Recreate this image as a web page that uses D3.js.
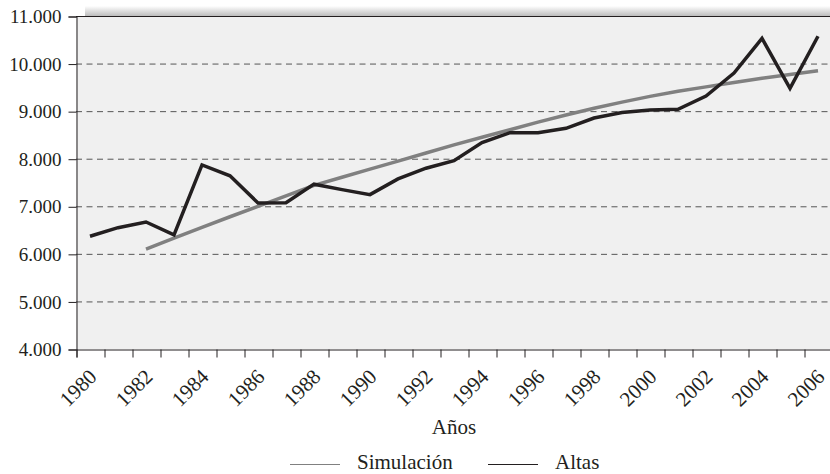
<!DOCTYPE html>
<html>
<head>
<meta charset="utf-8">
<script src="https://cdn.jsdelivr.net/npm/d3@7"></script>
<style>
  body { margin: 0; background: #fff; }
</style>
</head>
<body>
<script>
// data
var YEARS = [1980, 1981, 1982, 1983, 1984, 1985, 1986, 1987, 1988, 1989,
    1990, 1991, 1992, 1993, 1994, 1995, 1996, 1997, 1998, 1999,
    2000, 2001, 2002, 2003, 2004, 2005, 2006];
var ALTAS = [6370, 6550, 6670, 6400, 7870, 7640, 7070, 7075, 7465, 7350,
    7245, 7575, 7800, 7960, 8340, 8547, 8547, 8640, 8855, 8970,
    9025, 9040, 9318, 9800, 10530, 9480, 10575];
var SIMULACION = [null, null, 6100, 6330, 6555, 6780, 7000, 7220, 7440, 7610,
    7780, 7950, 8120, 8290, 8450, 8610, 8770, 8920, 9060, 9190,
    9310, 9420, 9510, 9600, 9690, 9770, 9850];
var LABEL_YEARS = [1980, 1982, 1984, 1986, 1988, 1990, 1992, 1994, 1996, 1998,
    2000, 2002, 2004, 2006];
var Y_TICKS = [4000, 5000, 6000, 7000, 8000, 9000, 10000, 11000];
var GRID_TICKS = [5000, 6000, 7000, 8000, 9000, 10000];

var WIDTH = 830, HEIGHT = 474;
var PLOT = {left: 76, right: 832, top: 16, bottom: 349};
var FONT = "'Liberation Serif', 'DejaVu Serif', serif";
var INK = "#231f20";

var svg = d3.select("body").append("svg")
    .attr("width", WIDTH)
    .attr("height", HEIGHT)
    .attr("font-family", FONT);

// scales
var xScale = d3.scaleLinear().domain([1979.5, 2006.5]).range([PLOT.left, PLOT.right]);
var yScale = d3.scaleLinear().domain([4000, 11000]).range([PLOT.bottom, PLOT.top]);

var esFormat = d3.formatLocale({decimal: ",", thousands: ".", grouping: [3], currency: ["", ""]}).format(",.0f");

// shadow above the plot frame
var defs = svg.append("defs");
var grad = defs.append("linearGradient").attr("id", "shade").attr("x1", 0).attr("x2", 0).attr("y1", 0).attr("y2", 1);
grad.append("stop").attr("offset", "0%").attr("stop-color", "#ffffff");
grad.append("stop").attr("offset", "100%").attr("stop-color", "#bdbdbd");
svg.append("rect")
    .attr("x", PLOT.left + 9).attr("y", PLOT.top - 10)
    .attr("width", WIDTH - PLOT.left - 9).attr("height", 10)
    .attr("fill", "url(#shade)");

// plot background
svg.append("rect")
    .attr("x", PLOT.left).attr("y", PLOT.top)
    .attr("width", PLOT.right - PLOT.left).attr("height", PLOT.bottom - PLOT.top)
    .attr("fill", "#f0f0f0");

// dashed grid
svg.append("g").selectAll("line").data(GRID_TICKS).enter().append("line")
    .attr("x1", PLOT.left).attr("x2", PLOT.right)
    .attr("y1", function (d) { return yScale(d) + 0.5; })
    .attr("y2", function (d) { return yScale(d) + 0.5; })
    .attr("stroke", "#555")
    .attr("stroke-width", 1)
    .attr("stroke-dasharray", "6,4.5");

// top border
svg.append("line")
    .attr("x1", PLOT.left).attr("x2", WIDTH)
    .attr("y1", PLOT.top + 0.5).attr("y2", PLOT.top + 0.5)
    .attr("stroke", INK);

// y axis
var yAxis = d3.axisLeft(yScale).tickValues(Y_TICKS).tickSize(8).tickPadding(7).tickFormat(esFormat);
var gy = svg.append("g").attr("transform", "translate(" + (PLOT.left + 0.5) + ",0.5)").call(yAxis);
gy.attr("font-family", FONT).attr("font-size", 19);
gy.select(".domain").attr("stroke", INK);
gy.selectAll(".tick line").attr("stroke", INK);
gy.selectAll("text").attr("fill", INK);

// x axis: ticks at category boundaries
var boundaries = YEARS.map(function (d) { return d - 0.5; }).concat([2006.5]);
var xAxis = d3.axisBottom(xScale).tickValues(boundaries).tickSize(8).tickFormat("");
var gx = svg.append("g").attr("transform", "translate(0.5," + (PLOT.bottom + 0.5) + ")").call(xAxis);
gx.select(".domain").attr("stroke", INK);
gx.selectAll(".tick line").attr("stroke", INK);

// rotated year labels
svg.append("g").selectAll("text").data(LABEL_YEARS).enter().append("text")
    .attr("transform", function (d) {
        return "translate(" + (xScale(d) + 8) + "," + (PLOT.bottom + 29) + ") rotate(-45)";
    })
    .attr("text-anchor", "end")
    .attr("font-size", 21)
    .attr("fill", INK)
    .text(function (d) { return d; });

// axis title
svg.append("text")
    .attr("x", (PLOT.left + PLOT.right) / 2)
    .attr("y", 434)
    .attr("text-anchor", "middle")
    .attr("font-size", 21)
    .attr("fill", INK)
    .text("Años");

// lines
var line = d3.line()
    .defined(function (d) { return d[1] !== null; })
    .x(function (d) { return xScale(d[0]); })
    .y(function (d) { return yScale(d[1]); });

svg.append("path")
    .datum(YEARS.map(function (d, i) { return [d, SIMULACION[i]]; }))
    .attr("fill", "none")
    .attr("stroke", "#808080")
    .attr("stroke-width", 3.5)
    .attr("d", line);

svg.append("path")
    .datum(YEARS.map(function (d, i) { return [d, ALTAS[i]]; }))
    .attr("fill", "none")
    .attr("stroke", INK)
    .attr("stroke-width", 3.5)
    .attr("d", line);

// legend
var legend = [
    {name: "Simulación", color: "#808080", x: 290},
    {name: "Altas", color: INK, x: 488}
];
var lg = svg.append("g").selectAll("g").data(legend).enter().append("g");
lg.append("line")
    .attr("x1", function (d) { return d.x; })
    .attr("x2", function (d) { return d.x + 50; })
    .attr("y1", 464.5).attr("y2", 464.5)
    .attr("stroke", function (d) { return d.color; })
    .attr("stroke-width", 1.2);
lg.append("text")
    .attr("x", function (d) { return d.x + 67; })
    .attr("y", 469)
    .attr("font-size", 21)
    .attr("fill", INK)
    .text(function (d) { return d.name; });
</script>
</body>
</html>
